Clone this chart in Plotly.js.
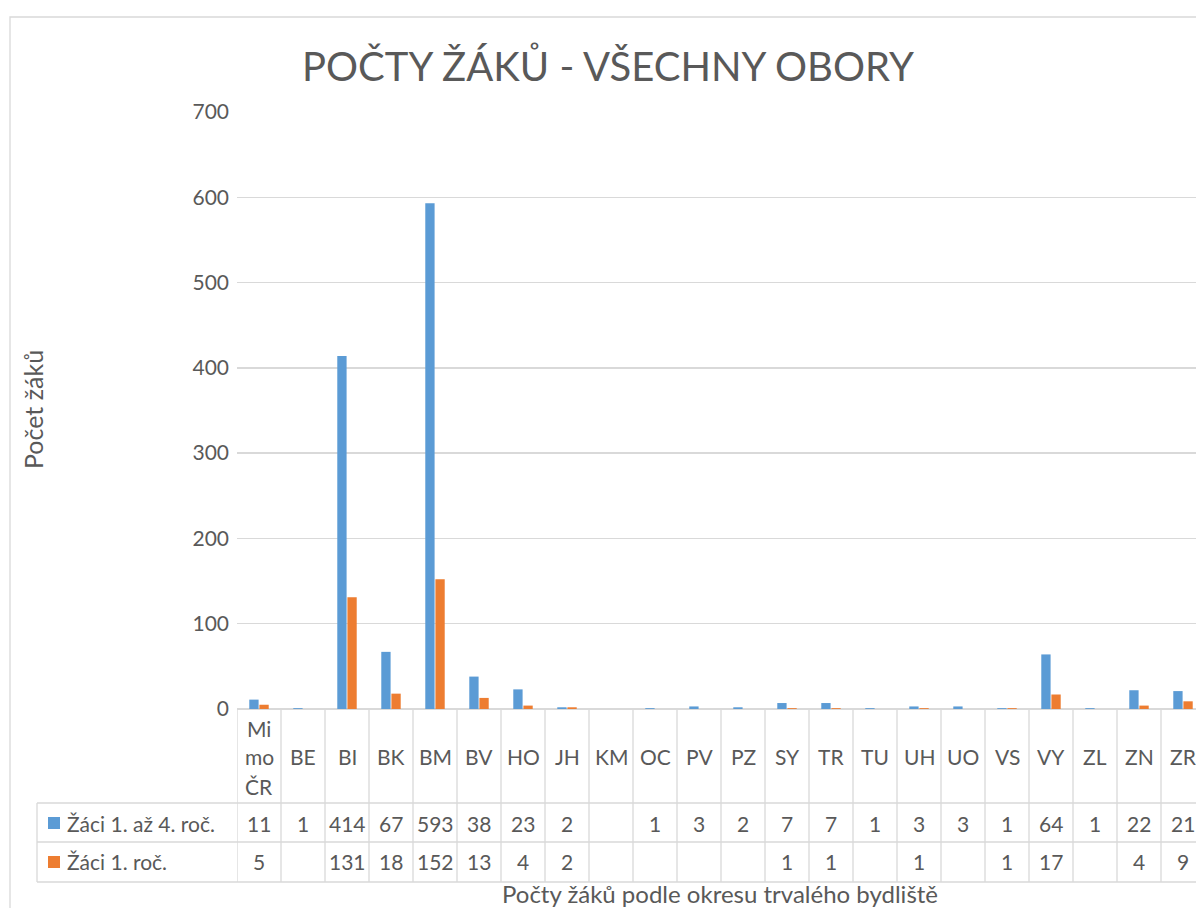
<!DOCTYPE html>
<html>
<head>
<meta charset="utf-8">
<script src="https://cdn.plot.ly/plotly-3.0.1.min.js"></script>
<style>
html,body{margin:0;padding:0;overflow:hidden;background:#fff;}
#chart{width:1220px;height:908px;}
</style>
</head>
<body>
<div id="chart"></div>
<script>
// ---- data ----
const categories = ["Mimo ČR","BE","BI","BK","BM","BV","HO","JH","KM","OC","PV","PZ","SY","TR","TU","UH","UO","VS","VY","ZL","ZN","ZR"];
const categoryLabels = [["Mi","mo","ČR"],["BE"],["BI"],["BK"],["BM"],["BV"],["HO"],["JH"],["KM"],["OC"],["PV"],["PZ"],["SY"],["TR"],["TU"],["UH"],["UO"],["VS"],["VY"],["ZL"],["ZN"],["ZR"]];
const seriesNames = ["Žáci 1. až 4. roč.","Žáci 1. roč."];
const zaci1az4 = [11,1,414,67,593,38,23,2,null,1,3,2,7,7,1,3,3,1,64,1,22,21];
const zaci1 = [5,null,131,18,152,13,4,2,null,null,null,null,1,1,null,1,null,1,17,null,4,9];
const yTicks = [0,100,200,300,400,500,600,700];
const chartTitle = "POČTY ŽÁKŮ - VŠECHNY OBORY";
const yTitle = "Počet žáků";
const xTitle = "Počty žáků podle okresu trvalého bydliště";

// ---- style ----
const FONT = "Lato, 'Open Sans', sans-serif";
const TXT = "#595959";
const GRID = "#d9d9d9";
const colors = ["#5B9BD5","#ED7D31"];
const FS = 21;

const W = 1220, H = 908;
const L = 237, R = 1205, T = 112, B = 709;
const pw = R - L, ph = B - T;
const px2x = p => (p - L) / pw;
const py2y = p => (B - p) / ph;

const traces = [
  {type:"bar", name:seriesNames[0], x:categories, y:zaci1az4, marker:{color:colors[0]}},
  {type:"bar", name:seriesNames[1], x:categories, y:zaci1, marker:{color:colors[1]}}
];

const shapes = [];
const annotations = [];
const lineStyle = {color:GRID, width:1.3};

// outer chart border
shapes.push({type:"rect", xref:"paper", yref:"paper", x0:px2x(10), x1:px2x(1300), y0:py2y(1000), y1:py2y(17), line:{color:GRID,width:1.3}, fillcolor:"rgba(0,0,0,0)", layer:"below"});

// table horizontal lines
[803, 842, 882].forEach(py => {
  shapes.push({type:"line", xref:"paper", yref:"paper", x0:px2x(37), x1:1, y0:py2y(py), y1:py2y(py), line:lineStyle});
});
// legend column left border
shapes.push({type:"line", xref:"paper", yref:"paper", x0:px2x(37), x1:px2x(37), y0:py2y(803), y1:py2y(882), line:lineStyle});
// vertical column lines
for (let i = 0; i <= categories.length; i++) {
  shapes.push({type:"line", xref:"x", yref:"paper", x0:i-0.5, x1:i-0.5, y0:py2y(709), y1:py2y(882), line:lineStyle});
}

// category labels
categories.forEach((c, i) => {
  const lines = categoryLabels[i];
  const centers = lines.length === 3 ? [728, 757, 786] : [757];
  lines.forEach((t, k) => {
    annotations.push({xref:"x", yref:"paper", x:i, y:py2y(centers[k]), text:t, showarrow:false, xanchor:"center", yanchor:"middle", font:{family:FONT, size:FS, color:TXT}});
  });
});
// values
[zaci1az4, zaci1].forEach((arr, s) => {
  const py = s === 0 ? 823 : 862;
  arr.forEach((v, i) => {
    if (v === null) return;
    annotations.push({xref:"x", yref:"paper", x:i, y:py2y(py), text:String(v), showarrow:false, xanchor:"center", yanchor:"middle", font:{family:FONT, size:FS, color:TXT}});
  });
  // legend key
  shapes.push({type:"rect", xref:"paper", yref:"paper", x0:px2x(48), x1:px2x(60), y0:py2y(py+6), y1:py2y(py-6), fillcolor:colors[s], line:{width:0}});
  annotations.push({xref:"paper", yref:"paper", x:px2x(65), y:py2y(py), text:seriesNames[s], showarrow:false, xanchor:"left", yanchor:"middle", font:{family:FONT, size:FS, color:TXT}});
});

// axis titles
annotations.push({xref:"paper", yref:"paper", x:px2x(33), y:py2y(410), text:yTitle, textangle:-90, showarrow:false, xanchor:"center", yanchor:"middle", font:{family:FONT, size:25, color:TXT}});
annotations.push({xref:"paper", yref:"paper", x:px2x(720), y:py2y(893), text:xTitle, showarrow:false, xanchor:"center", yanchor:"middle", font:{family:FONT, size:24, color:TXT}});

const layout = {
  width: W, height: H,
  margin: {l:L, r:W-R, t:T, b:H-B, pad:0},
  paper_bgcolor:"#fff", plot_bgcolor:"#fff",
  showlegend:false,
  bargap:0.54, bargroupgap:0.08,
  title:{text:chartTitle, font:{family:FONT, size:40, color:TXT}, x:608/W, xref:"container", xanchor:"center", y:1-67/H, yref:"container", yanchor:"middle"},
  xaxis:{type:"category", range:[-0.5, categories.length-0.5], showticklabels:false, showgrid:false, zeroline:false, showline:false, ticks:""},
  yaxis:{range:[0,700], tickvals:yTicks, ticktext:yTicks.map(String), showgrid:true, gridcolor:GRID, gridwidth:1.3, zeroline:true, zerolinecolor:GRID, zerolinewidth:1.3, showline:false, ticks:"", ticklabelstandoff:7, tickfont:{family:FONT, size:FS, color:TXT}},
  shapes: shapes,
  annotations: annotations,
  font:{family:FONT, color:TXT}
};

Plotly.newPlot("chart", traces, layout, {staticPlot:true, displayModeBar:false});
</script>
</body>
</html>
